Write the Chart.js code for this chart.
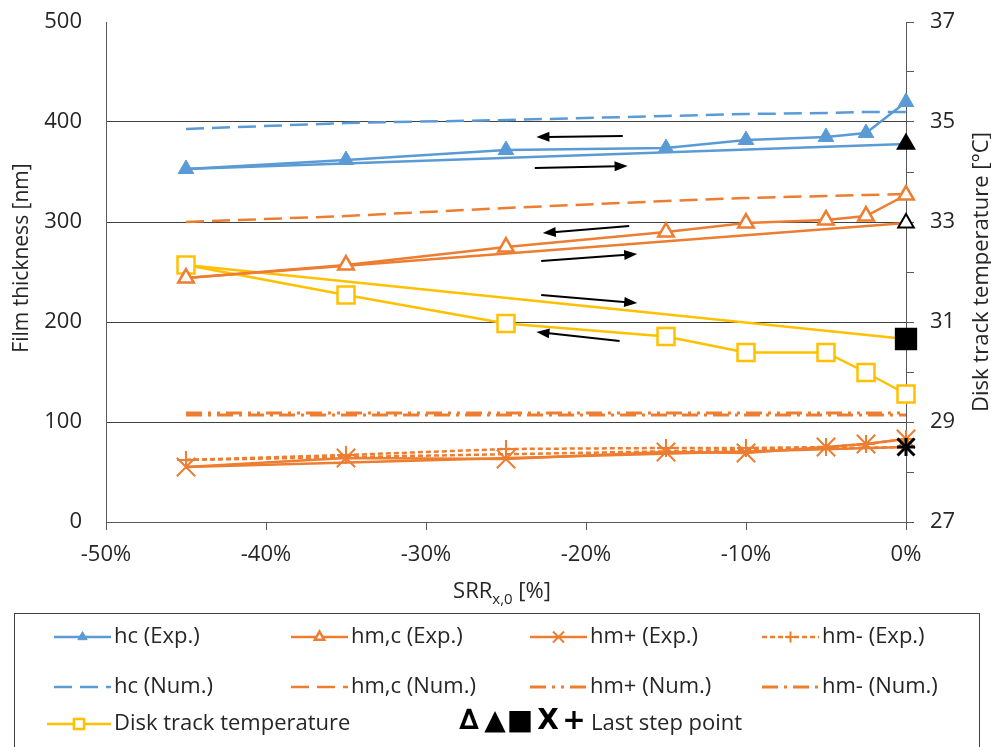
<!DOCTYPE html>
<html>
<head>
<meta charset="utf-8">
<script src="https://cdn.jsdelivr.net/npm/chart.js@4.4.0/dist/chart.umd.min.js"></script>
<style>
  html, body { margin: 0; padding: 0; background: #fff; }
  #wrap { width: 991px; height: 747px; }
</style>
</head>
<body>
<div id="wrap"><canvas id="chart" width="991" height="747"></canvas></div>
<script>
// SRR positions [%]
const srrExp = [-45, -35, -25, -15, -10, -5, -2.5, 0];
const srrNum = [-45, -35, -25, -15, -10, -5, -2.5, 0];
const srrBack = [-45, 0];
const srrLast = [0];

// film thickness [nm], sweep 0 -> -45 (with markers)
const hcExp = [353, 362, 372, 374, 382, 385, 389, 420];
const hmcExp = [244, 257, 275, 290, 299, 302, 306, 327];
const hmPlusExp = [55, 64, 63, 70, 69, 75, 78, 83];
const hmMinusExp = [62, 67, 73, 74, 74, 75, 78, 83];

// way back -45 -> 0
const hcBack = [353, 378];
const hmcBack = [244, 299];
const hmPlusBack = [55, 75];
const hmMinusBack = [62, 75];

// numerical results [nm]
const hcNum = [393, 399, 402, 406, 408, 409, 410, 410];
const hmcNum = [300, 306, 314, 321, 324, 326, 327, 328];
const hmPlusNum = [109, 109, 109, 109, 109, 109, 109, 109];
const hmMinusNum = [107, 107, 107, 107, 107, 107, 107, 107];

// disk track temperature [°C]
const tempExp = [32.14, 31.54, 30.97, 30.71, 30.39, 30.39, 29.99, 29.56];
const tempBack = [32.14, 30.66];

// last step points
const hcLast = [378];
const hmcLast = [299];
const tempLast = [30.66];
const hmPlusLast = [75];
const hmMinusLast = [75];

// arrows (SRR %, nm): start / end
const arrowStart = [[-17.7, 386], [-23.2, 354], [-17.3, 296], [-22.8, 261], [-22.8, 227], [-17.9, 181]];
const arrowEnd = [[-23.1, 385], [-17.4, 356], [-22.7, 289], [-16.8, 268], [-16.8, 219], [-23.1, 190]];

const BLUE = '#5B9BD5';
const ORANGE = '#ED7D31';
const YELLOW = '#FFC000';
const FONT = '"Open Sans", "DejaVu Sans", sans-serif';

function pts(xs, ys) {
  return xs.map((x, i) => ({ x: x, y: ys[i] }));
}

function lineSet(label, xs, ys, color, extra) {
  return Object.assign({
    label: label,
    data: pts(xs, ys),
    borderColor: color,
    backgroundColor: color,
    borderWidth: 2.5,
    pointRadius: 0,
    showLine: true,
    tension: 0,
    clip: false,
    yAxisID: 'y',
    order: 3
  }, extra || {});
}

const datasets = [
  // last step points (on top)
  lineSet('last hc', srrLast, hcLast, '#000', { showLine: false, pointStyle: 'triangle', pointRadius: 9, pointBackgroundColor: '#000', pointBorderColor: '#000', order: 0 }),
  lineSet('last hmc', srrLast, hmcLast, '#000', { showLine: false, pointStyle: 'triangle', pointRadius: 9, pointBackgroundColor: '#fff', pointBorderColor: '#000', pointBorderWidth: 2, order: 0 }),
  lineSet('last temp', srrLast, tempLast, '#000', { showLine: false, pointStyle: 'rect', pointRadius: 14, pointBackgroundColor: '#000', pointBorderColor: '#000', yAxisID: 'yT', order: 0 }),
  lineSet('last hm+', srrLast, hmPlusLast, '#000', { showLine: false, pointStyle: 'crossRot', pointRadius: 12, pointBorderColor: '#000', pointBorderWidth: 3, order: 0 }),
  lineSet('last hm-', srrLast, hmMinusLast, '#000', { showLine: false, pointStyle: 'cross', pointRadius: 9, pointBorderColor: '#000', pointBorderWidth: 3, order: 0 }),

  // experiments, sweep with markers
  lineSet('hc (Exp.)', srrExp, hcExp, BLUE, { pointStyle: 'triangle', pointRadius: 9, pointBackgroundColor: BLUE, pointBorderColor: BLUE, pointBorderWidth: 1, order: 1 }),
  lineSet('hm,c (Exp.)', srrExp, hmcExp, ORANGE, { pointStyle: 'triangle', pointRadius: 9, pointBackgroundColor: '#fff', pointBorderColor: ORANGE, pointBorderWidth: 2.5, order: 1 }),
  lineSet('hm+ (Exp.)', srrExp, hmPlusExp, ORANGE, { pointStyle: 'crossRot', pointRadius: 13, pointBorderColor: ORANGE, pointBorderWidth: 2, order: 1 }),
  lineSet('hm- (Exp.)', srrExp, hmMinusExp, ORANGE, { borderDash: [5, 3], pointStyle: 'cross', pointRadius: 9, pointBorderColor: ORANGE, pointBorderWidth: 2, order: 1 }),
  lineSet('Disk track temperature', srrExp, tempExp, YELLOW, { pointStyle: 'rect', pointRadius: 12, pointBackgroundColor: '#fff', pointBorderColor: YELLOW, pointBorderWidth: 2.5, yAxisID: 'yT', order: 1 }),

  // way back
  lineSet('hc back', srrBack, hcBack, BLUE, { order: 2 }),
  lineSet('hmc back', srrBack, hmcBack, ORANGE, { order: 2 }),
  lineSet('hm+ back', srrBack, hmPlusBack, ORANGE, { order: 2 }),
  lineSet('hm- back', srrBack, hmMinusBack, ORANGE, { borderDash: [5, 3], order: 2 }),
  lineSet('temp back', srrBack, tempBack, YELLOW, { yAxisID: 'yT', order: 2 }),

  // numerical
  lineSet('hc (Num.)', srrNum, hcNum, BLUE, { borderWidth: 2.5, borderDash: [18, 8] }),
  lineSet('hm,c (Num.)', srrNum, hmcNum, ORANGE, { borderWidth: 2.5, borderDash: [18, 8] }),
  lineSet('hm+ (Num.)', srrNum, hmPlusNum, ORANGE, { borderWidth: 3, borderDash: [16, 6, 3, 6, 3, 6] }),
  lineSet('hm- (Num.)', srrNum, hmMinusNum, ORANGE, { borderWidth: 3, borderDash: [16, 6, 3, 6] })
];

// legend entries in reading order
const legendLabels = [
  'hc (Exp.)', 'hm,c (Exp.)', 'hm+ (Exp.)', 'hm- (Exp.)',
  'hc (Num.)', 'hm,c (Num.)', 'hm+ (Num.)', 'hm- (Num.)',
  'Disk track temperature'
];

// arrows between the sweeps
const arrowPlugin = {
  id: 'arrows',
  afterDatasetsDraw(chart) {
    const ctx = chart.ctx;
    const sx = chart.scales.x;
    const sy = chart.scales.y;
    ctx.save();
    ctx.strokeStyle = '#000';
    ctx.fillStyle = '#000';
    ctx.lineWidth = 2;
    arrowStart.forEach((a, i) => {
      const b = arrowEnd[i];
      const x1 = sx.getPixelForValue(a[0]), y1 = sy.getPixelForValue(a[1]);
      const x2 = sx.getPixelForValue(b[0]), y2 = sy.getPixelForValue(b[1]);
      const ang = Math.atan2(y2 - y1, x2 - x1);
      const head = 13;
      ctx.beginPath();
      ctx.moveTo(x1, y1);
      ctx.lineTo(x2 - Math.cos(ang) * head * 0.8, y2 - Math.sin(ang) * head * 0.8);
      ctx.stroke();
      ctx.beginPath();
      ctx.moveTo(x2, y2);
      ctx.lineTo(x2 - head * Math.cos(ang) + 5 * Math.sin(ang), y2 - head * Math.sin(ang) - 5 * Math.cos(ang));
      ctx.lineTo(x2 - head * Math.cos(ang) - 5 * Math.sin(ang), y2 - head * Math.sin(ang) + 5 * Math.cos(ang));
      ctx.closePath();
      ctx.fill();
    });
    ctx.restore();
  }
};

// axis titles drawn by hand (subscript, right title bottom-up)
const titlePlugin = {
  id: 'titles',
  afterDraw(chart) {
    const ctx = chart.ctx;
    const area = chart.chartArea;
    ctx.save();
    ctx.fillStyle = '#262626';
    ctx.textBaseline = 'middle';
    ctx.textAlign = 'center';

    ctx.font = '21px ' + FONT;
    ctx.save();
    ctx.translate(22, 258);
    ctx.rotate(-Math.PI / 2);
    ctx.fillText('Film thickness [nm]', 0, 0);
    ctx.restore();

    ctx.font = '22px ' + FONT;
    ctx.save();
    ctx.translate(982, (area.top + area.bottom) / 2);
    ctx.rotate(-Math.PI / 2);
    ctx.fillText('Disk track temperature [°C]', 0, 0);
    ctx.restore();

    const main = 'SRR', sub = 'x,0', tail = ' [%]';
    const yT = 592;
    ctx.font = '22px ' + FONT;
    const w1 = ctx.measureText(main).width;
    const w3 = ctx.measureText(tail).width;
    ctx.font = '15px ' + FONT;
    const w2 = ctx.measureText(sub).width;
    let x = (area.left + area.right) / 2 - 4 - (w1 + w2 + w3) / 2;
    ctx.textAlign = 'left';
    ctx.font = '22px ' + FONT;
    ctx.fillText(main, x, yT);
    ctx.font = '15px ' + FONT;
    ctx.fillText(sub, x + w1, yT + 8);
    ctx.font = '22px ' + FONT;
    ctx.fillText(tail, x + w1 + w2, yT);
    ctx.restore();
  }
};

// boxed legend under the chart
const legendPlugin = {
  id: 'boxLegend',
  afterDraw(chart) {
    const ctx = chart.ctx;
    const colX = [54, 291, 530, 762];
    const rowY = [637, 687, 724];
    const sampleW = 57;
    ctx.save();
    ctx.strokeStyle = '#404040';
    ctx.lineWidth = 1;
    ctx.strokeRect(14.5, 613.5, 965, 160);

    legendLabels.forEach((label, i) => {
      const ds = chart.data.datasets.find(d => d.label === label);
      const x0 = colX[i % 4] - (i === 8 ? 7 : 0);
      const w = sampleW + (i === 8 ? 7 : 0);
      const y = rowY[Math.floor(i / 4)];
      ctx.save();
      ctx.strokeStyle = ds.borderColor;
      ctx.lineWidth = ds.borderWidth;
      ctx.setLineDash(ds.borderDash || []);
      ctx.beginPath();
      ctx.moveTo(x0, y);
      ctx.lineTo(x0 + w, y);
      ctx.stroke();
      ctx.setLineDash([]);
      if (ds.pointStyle) {
        ctx.fillStyle = ds.pointBackgroundColor || ds.borderColor;
        ctx.strokeStyle = ds.pointBorderColor || ds.borderColor;
        ctx.lineWidth = ds.pointBorderWidth || 1;
        Chart.helpers.drawPoint(ctx, {
          pointStyle: ds.pointStyle,
          radius: ds.pointRadius * 0.6,
          borderWidth: ds.pointBorderWidth || 1,
          rotation: 0
        }, x0 + w / 2, y);
      }
      ctx.restore();
      ctx.fillStyle = '#262626';
      ctx.font = '22px ' + FONT;
      ctx.textBaseline = 'middle';
      ctx.textAlign = 'left';
      ctx.fillText(label, x0 + w + 3, y);
    });

    // last step point symbols
    const glyphs = ['∆', '▲', '■', 'X', '+'];
    const glyphX = [469, 495, 520, 548, 574];
    ctx.fillStyle = '#000';
    ctx.textAlign = 'center';
    ctx.textBaseline = 'middle';
    glyphs.forEach((g, i) => {
      ctx.font = 'bold 28px "DejaVu Sans", sans-serif';
      ctx.fillText(g, glyphX[i], 722);
    });
    ctx.fillStyle = '#262626';
    ctx.font = '22px ' + FONT;
    ctx.textAlign = 'left';
    ctx.fillText('Last step point', 591, 724);
    ctx.restore();
  }
};

Chart.defaults.font.family = FONT;
Chart.defaults.color = '#262626';

// fixed axis boxes, no extra label padding above/below the plot
function fitY(width) {
  return s => {
    s.width = width;
    s.paddingTop = 0;
    s.paddingBottom = 0;
  };
}

const chart = new Chart(document.getElementById('chart'), {
  type: 'line',
  data: { datasets: datasets },
  options: {
    responsive: false,
    animation: false,
    devicePixelRatio: 1,
    layout: { padding: { top: 22, left: 0, right: 0, bottom: 137 } },
    plugins: {
      legend: { display: false },
      tooltip: { enabled: false }
    },
    scales: {
      x: {
        type: 'linear',
        min: -50,
        max: 0,
        afterFit: s => { s.height = 88; s.paddingLeft = 0; s.paddingRight = 0; },
        grid: { drawOnChartArea: false, drawTicks: true, tickLength: 8, color: '#595959' },
        border: { display: true, color: '#595959', width: 1 },
        ticks: {
          stepSize: 10,
          autoSkip: false,
          maxRotation: 0,
          padding: 12,
          font: { size: 22 },
          callback: v => v + '%'
        }
      },
      y: {
        position: 'left',
        min: 0,
        max: 500,
        afterFit: fitY(106),
        grid: {
          drawTicks: false,
          color: c => (c.tick && c.tick.value === 500 ? 'rgba(0,0,0,0)' : '#404040')
        },
        border: { display: true, color: '#595959', width: 1 },
        ticks: { stepSize: 100, padding: 24, font: { size: 22 } }
      },
      yT: {
        position: 'right',
        min: 27,
        max: 37,
        afterFit: fitY(85),
        grid: { drawOnChartArea: false, drawTicks: true, tickLength: 8, color: '#595959' },
        border: { display: true, color: '#595959', width: 1 },
        ticks: {
          stepSize: 1,
          autoSkip: false,
          padding: 16,
          font: { size: 22 },
          callback: v => ((v - 27) % 2 === 0 ? v : '')
        }
      }
    }
  },
  plugins: [arrowPlugin, titlePlugin, legendPlugin]
});
</script>
</body>
</html>
